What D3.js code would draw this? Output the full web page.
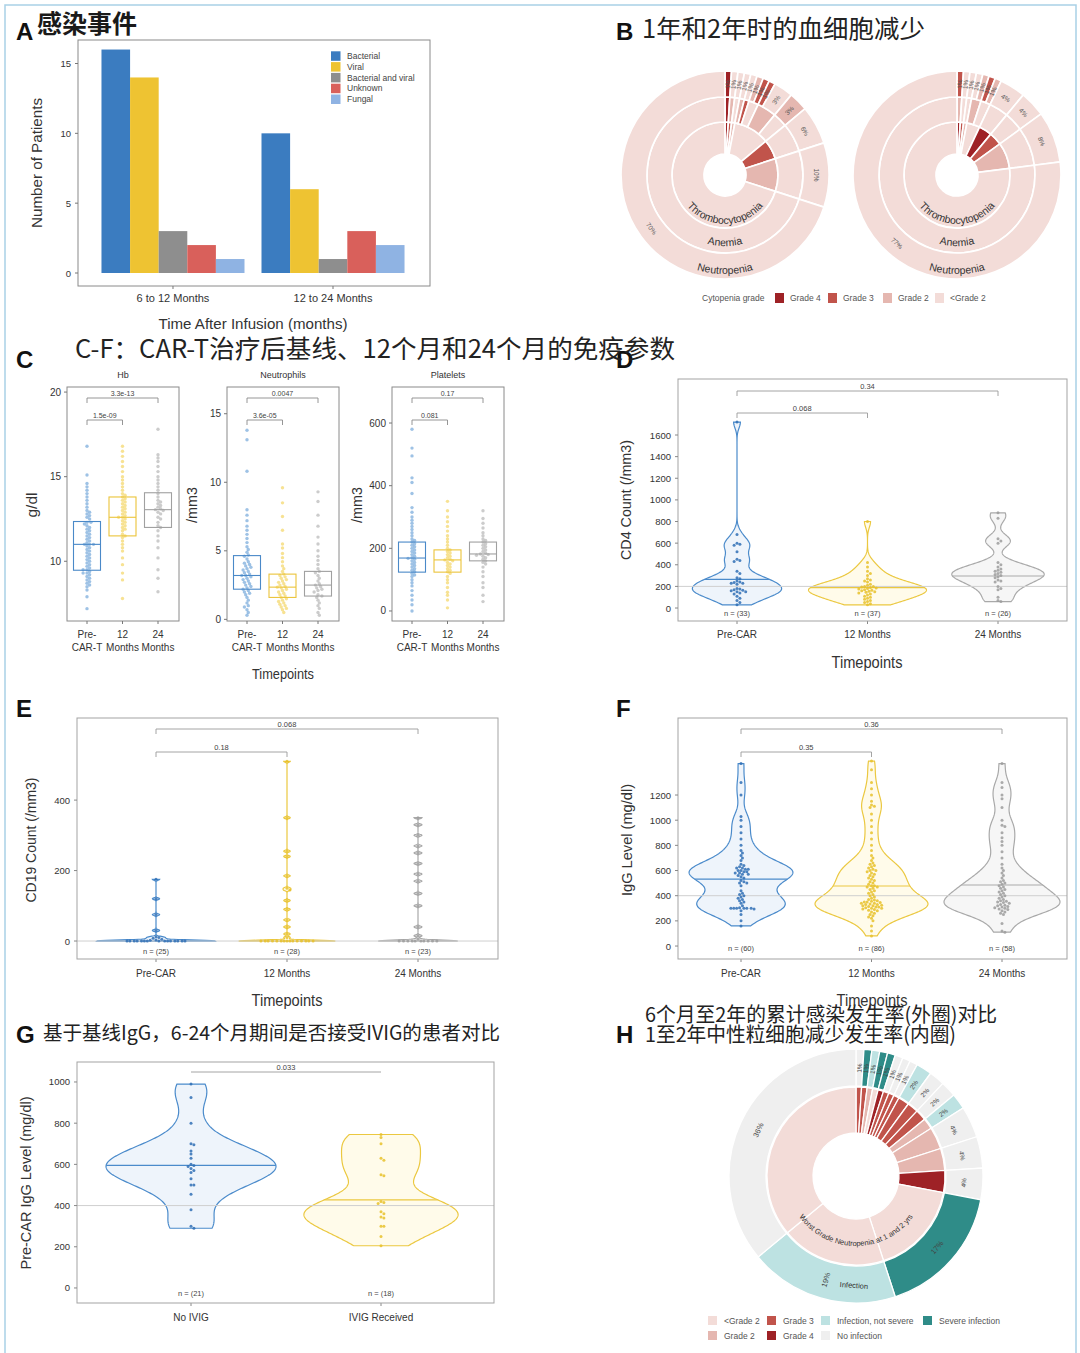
<!DOCTYPE html>
<html><head><meta charset="utf-8">
<script src="https://cdn.jsdelivr.net/npm/d3@7"></script>
<style>html,body{margin:0;padding:0;background:#fff}</style>
</head><body>
<svg id="fig" width="1080" height="1353" xmlns="http://www.w3.org/2000/svg"></svg>
<script>
// ================= DATA =================
// Panel A
const aCategories = ["6 to 12 Months", "12 to 24 Months"];
const aSeries = ["Bacterial", "Viral", "Bacterial and viral", "Unknown", "Fungal"];
const aValues6to12 = [16, 14, 3, 2, 1];
const aValues12to24 = [10, 6, 1, 3, 2];
const aTicks = [0, 5, 10, 15];

// Panel B  leaves: [thrombocytopenia grade, anemia grade, neutropenia grade, percent]  (1 = <Grade 2)
const bGradeNames = ["Grade 4", "Grade 3", "Grade 2", "<Grade 2"];
const bGradeKeys = [4, 3, 2, 1];
const bRingNames = ["Thrombocytopenia", "Anemia", "Neutropenia"];
const b1yr = [[4,4,4,1],[3,2,1,1],[2,1,1,1],[1,2,1,1],[1,3,1,1],[1,1,2,1],[1,1,3,1],[1,2,3,1],
              [1,2,1,3],[1,1,2,3],[3,1,1,6],[2,1,1,10],[1,1,1,70]];
const b2yr = [[4,2,3,1],[3,1,1,1],[2,1,1,1],[1,2,1,1],[1,2,2,1],[1,1,3,1],[1,1,2,1],
              [4,1,1,4],[3,1,1,4],[2,1,1,8],[1,1,1,77]];

// Panel C
const cPanelNames = ["Hb", "Neutrophils", "Platelets"];
const cGroups = ["Pre-CAR-T", "12 Months", "24 Months"];
const cGroupLines = [["Pre-", "CAR-T"], ["12", "Months"], ["24", "Months"]];
const cYLabels = ["g/dl", "/mm3", "/mm3"];
const cTicks = [[10, 15, 20], [0, 5, 10, 15], [0, 200, 400, 600]];
const hbPre = [7.2,7.9,8.3,8.5,8.6,8.7,8.8,8.9,9.0,9.1,9.2,9.3,9.3,9.4,9.5,9.5,9.6,9.7,9.8,9.9,10.0,10.1,10.2,10.3,10.4,10.5,10.6,10.7,10.8,10.9,11.0,11.0,11.0,11.1,11.2,11.3,11.4,11.5,11.6,11.7,11.8,11.9,12.0,12.1,12.2,12.3,12.3,12.5,12.6,12.7,12.8,12.9,13.0,13.2,13.4,13.6,13.8,14.0,14.2,14.4,14.6,15.1,16.8];
const hb12 = [7.8,8.9,9.3,9.8,10.2,10.6,10.8,11.0,11.2,11.4,11.5,11.6,11.8,11.9,12.0,12.1,12.2,12.3,12.4,12.5,12.6,12.6,12.7,12.8,12.9,13.0,13.1,13.2,13.3,13.4,13.5,13.6,13.7,13.8,13.9,14.0,14.2,14.4,14.6,14.8,15.0,15.3,15.6,15.9,16.2,16.5,16.8];
const hb24 = [8.2,9.0,9.5,10.2,10.8,11.2,11.5,11.8,12.0,12.1,12.3,12.5,12.6,12.8,12.9,13.0,13.05,13.1,13.2,13.3,13.4,13.5,13.6,13.8,14.0,14.2,14.4,14.6,14.8,15.0,15.3,15.6,15.9,16.1,16.3,17.8];
const hbBoxes = [[9.47, 11.0, 12.35], [11.5, 12.6, 13.8], [12.0, 13.05, 14.05]];
const hbP = ["1.5e-09", "3.3e-13"];
const nePre = [0.3,0.5,0.7,0.9,1.0,1.2,1.4,1.6,1.8,1.9,2.0,2.1,2.2,2.3,2.4,2.5,2.6,2.7,2.8,2.9,3.0,3.1,3.2,3.2,3.3,3.4,3.5,3.6,3.7,3.8,3.9,4.0,4.1,4.2,4.4,4.6,4.7,4.9,5.1,5.3,5.6,5.9,6.2,6.5,6.8,7.2,7.6,8.0,10.8,13.1,13.8];
const ne12 = [0.5,0.7,0.8,0.9,1.0,1.1,1.2,1.3,1.4,1.5,1.6,1.7,1.8,1.9,2.0,2.1,2.2,2.3,2.35,2.4,2.5,2.6,2.7,2.8,2.9,3.0,3.1,3.2,3.3,3.5,3.7,3.9,4.2,4.5,4.8,5.2,5.5,6.5,7.5,8.5,9.6];
const ne24 = [0.3,0.5,0.8,1.0,1.2,1.4,1.6,1.7,1.8,2.0,2.1,2.2,2.3,2.4,2.5,2.6,2.8,3.0,3.2,3.4,3.5,3.7,4.0,4.3,4.6,5.0,5.5,6.0,6.8,7.6,8.6,9.3];
const neBoxes = [[2.2, 3.2, 4.65], [1.6, 2.35, 3.3], [1.7, 2.5, 3.5]];
const neP = ["3.6e-05", "0.0047"];
const plPre = [0,20,35,50,65,80,90,100,110,115,120,125,130,135,140,145,150,155,160,165,168,170,175,180,185,190,195,200,205,210,215,220,225,230,240,250,260,270,280,290,300,315,330,375,410,425,495,520,580];
const pl12 = [10,35,50,60,75,90,100,110,120,125,130,135,140,145,150,155,160,163,165,170,175,180,185,190,195,200,210,220,230,240,255,270,285,300,320,350];
const pl24 = [30,50,75,90,110,125,140,150,155,160,165,170,175,178,180,182,185,190,195,200,205,210,215,220,225,230,240,250,265,280,295,320];
const plBoxes = [[124, 169, 220], [124, 163, 195], [160, 182, 220]];
const plP = ["0.081", "0.17"];

// Panels D-F
const vGroups = ["Pre-CAR", "12 Months", "24 Months"];
const cd4Pre = [30,50,70,90,110,130,140,150,150,160,165,170,175,180,220,230,230,235,240,250,270,280,320,340,430,440,450,520,580,590,600,680,1720];
const cd412 = [30,40,50,60,70,80,90,100,110,120,130,140,145,150,155,160,165,170,175,180,185,190,195,200,200,210,220,240,250,260,270,300,320,340,380,420,800];
const cd424 = [60,70,100,170,180,200,240,250,260,280,290,300,310,320,330,340,350,360,380,400,420,600,620,640,830,880];
const dLines = [265, 188, 296];
const dP = ["0.068", "0.34"];
const dN = [33, 37, 26];
const dTicks = [0, 200, 400, 600, 800, 1000, 1200, 1400, 1600];

const cd19Pre = [0,0,0,0,0,0,0,0,0,0,0,0,0,0,0,2,3,5,8,10,12,30,75,120,175];
const cd1912 = [0,0,0,0,0,0,0,0,0,0,0,0,0,0,0,10,20,40,60,90,115,145,150,185,240,255,350,510];
const cd1924 = [0,0,0,0,0,0,0,0,0,0,5,15,40,100,135,170,190,220,250,270,300,330,350];
const eP = ["0.18", "0.068"];
const eN = [25, 28, 23];
const eTicks = [0, 200, 400];

const iggPre = [160,200,250,280,295,300,300,300,300,300,300,305,320,340,350,360,370,380,390,400,410,420,440,480,500,500,510,520,540,550,560,570,570,580,580,590,590,600,600,610,610,620,620,630,640,650,680,700,720,740,760,800,850,900,950,1000,1030,1200,1300,1450];
const igg12 = [80,120,160,200,220,230,240,250,260,270,280,285,290,295,300,300,305,310,310,315,320,320,325,330,330,335,340,340,345,350,350,355,360,365,370,380,390,400,410,420,430,440,450,460,470,470,480,480,490,500,510,520,530,540,550,560,570,580,590,600,600,610,620,630,640,650,660,680,700,720,760,800,850,900,950,1000,1050,1100,1110,1120,1150,1200,1250,1300,1400,1470];
const igg24 = [110,120,180,250,260,270,280,290,295,300,305,310,315,320,325,330,340,345,350,355,360,370,380,390,400,410,420,430,440,450,460,470,480,490,500,510,520,540,560,580,600,620,650,700,750,800,830,860,900,950,960,1000,1100,1170,1200,1260,1300,1450];
const fLines = [532, 477, 485];
const fP = ["0.35", "0.36"];
const fN = [60, 86, 58];
const fTicks = [0, 200, 400, 600, 800, 1000, 1200];

// Panel G
const gGroups = ["No IVIG", "IVIG Received"];
const gNoIVIG = [990,925,800,700,695,665,650,630,600,595,590,580,570,560,530,500,500,455,380,300,290];
const gIVIG = [745,730,700,630,620,550,545,420,415,410,370,360,345,340,300,300,250,205];
const gLines = [595, 428];
const gP = ["0.033"];
const gN = [21, 18];
const gTicks = [0, 200, 400, 600, 800, 1000];

// Panel H  leaves: [worst neutropenia grade, infection (0 none,1 not severe,2 severe), percent]
const hLeaves = [[3,0,1],[3,2,1],[2,1,1],[1,2,1],[4,2,1],[3,0,1],[3,0,1],[3,0,1],
                 [3,1,2],[3,0,2],[3,0,2],[2,1,2],
                 [2,0,4],[2,0,4],[4,0,4],
                 [1,2,17],[1,1,19],[1,0,36]];
const hInfNames = ["Infection, not severe", "Severe infection", "No infection"];

// ================= STYLE =================
const SANS = '"Liberation Sans", Arial, Helvetica, sans-serif';
const CJK = '"Noto Sans CJK SC", "Noto Sans CJK JP", sans-serif';
const aColors = ["#3b7cc0", "#eec332", "#8e8e8e", "#d9605b", "#8fb3e3"];
const gradeColor = {4: "#9e2226", 3: "#c1544b", 2: "#e5b7b0", 1: "#f3dcd8"};
const infColor = {0: "#efefef", 1: "#bde2e2", 2: "#2f8c88"};
const cStroke = ["#4a89c8", "#ebc43a", "#a0a0a0"];
const cPoint = ["#4f8fd0", "#f0ca3a", "#a3a3a3"];
const vStroke = ["#4b8bcb", "#ebc840", "#a9a9a9"];
const vFill = ["#eef4fb", "#fffbea", "#f6f6f6"];
const vPoint = ["#2f6fb5", "#e8c12a", "#9c9c9c"];

const svg = d3.select("#fig");

function T(x, y, s, o = {}) {
  const t = svg.append("text").attr("x", x).attr("y", y).text(s)
    .attr("font-family", o.family || SANS).attr("font-size", o.size || 10)
    .attr("fill", o.fill || "#333").attr("text-anchor", o.anchor || "start");
  if (o.weight) t.attr("font-weight", o.weight);
  if (o.rot !== undefined) t.attr("transform", `rotate(${o.rot},${x},${y})`);
  if (o.len) t.attr("textLength", o.len).attr("lengthAdjust", "spacingAndGlyphs");
  return t;
}
function Ln(x1, y1, x2, y2, stroke, w = 1) {
  return svg.append("line").attr("x1", x1).attr("y1", y1).attr("x2", x2).attr("y2", y2)
    .attr("stroke", stroke).attr("stroke-width", w);
}
function frame(x0, y0, x1, y1, stroke = "#9a9a9a") {
  svg.append("rect").attr("x", x0).attr("y", y0).attr("width", x1 - x0).attr("height", y1 - y0)
    .attr("fill", "none").attr("stroke", stroke).attr("stroke-width", 1);
}
function kde(vals, bw, lo, hi) {
  const n = Math.max(200, Math.ceil((hi - lo) / bw * 4));
  const out = [];
  for (let i = 0; i <= n; i++) { const v = lo + (hi - lo) * i / n; out.push([v, kdeAt(vals, bw, v)]); }
  return out;
}
function kdeAt(vals, bw, v) {
  let s = 0;
  for (const x of vals) { const z = (v - x) / bw; s += Math.exp(-0.5 * z * z); }
  return s / (vals.length * bw * Math.sqrt(2 * Math.PI));
}
function dodge(vals, yScale, md, step) {
  const pts = vals.map(v => ({ v, y: yScale(v), x: 0 })).sort((a, b) => a.y - b.y);
  const placed = [];
  for (const p of pts) {
    for (let k = 0; k < 400; k++) {
      const off = (k % 2 ? 1 : -1) * Math.ceil(k / 2) * step;
      let ok = true;
      for (let j = placed.length - 1; j >= 0; j--) {
        const q = placed[j];
        if (p.y - q.y >= md) break;
        if (Math.hypot(q.x - off, q.y - p.y) < md) { ok = false; break; }
      }
      if (ok) { p.x = off; break; }
    }
    placed.push(p);
  }
  return pts;
}
function labelRot(deg, radial) {
  let r = radial ? deg - 90 : deg;
  r = ((r % 360) + 360) % 360;
  if (r > 90 && r <= 270) r -= 180; else if (r > 270) r -= 360;
  return r;
}

// ================= FRAME & LABELS =================
svg.append("rect").attr("x", 5).attr("y", 5).attr("width", 1071).attr("height", 1370)
  .attr("fill", "none").attr("stroke", "#a9d1e6").attr("stroke-width", 1.5);

[["A", 16, 40], ["B", 616, 40], ["C", 16, 368], ["D", 616, 368], ["E", 16, 717], ["F", 616, 717], ["G", 16, 1043], ["H", 616, 1043]]
  .forEach(([l, x, y]) => T(x, y, l, { size: 24, weight: "bold", fill: "#111" }));

T(37, 33, "感染事件", { family: CJK, size: 25, weight: "bold", fill: "#1a1a1a", len: 100 });
T(642, 38, "1年和2年时的血细胞减少", { family: CJK, size: 25, fill: "#222", len: 283 });
T(75, 358, "C-F：CAR-T治疗后基线、12个月和24个月的免疫参数", { family: CJK, size: 25, fill: "#222", len: 600 });
T(43, 1040, "基于基线IgG，6-24个月期间是否接受IVIG的患者对比", { family: CJK, size: 19.5, fill: "#222", len: 457 });
T(645, 1022, "6个月至2年的累计感染发生率(外圈)对比", { family: CJK, size: 20, fill: "#222", len: 352 });
T(645, 1042, "1至2年中性粒细胞减少发生率(内圈)", { family: CJK, size: 20, fill: "#222", len: 311 });

// ================= PANEL A =================
(function () {
  const x0 = d3.scaleBand().domain(aCategories).range([93, 413]).paddingInner(0.10625).paddingOuter(0.053);
  const x1 = d3.scaleBand().domain(aSeries).range([0, x0.bandwidth()]);
  const y = d3.scaleLinear().domain([0, 15]).range([273, 63.5]);
  const vals = [aValues6to12, aValues12to24];
  frame(78, 40, 430, 286, "#8a8a8a");
  aCategories.forEach((c, i) => aSeries.forEach((s, j) => {
    svg.append("rect").attr("x", x0(c) + x1(s)).attr("y", y(vals[i][j]))
      .attr("width", x1.bandwidth()).attr("height", y(0) - y(vals[i][j])).attr("fill", aColors[j]);
  }));
  aTicks.forEach(t => { Ln(75, y(t), 78, y(t), "#777"); T(71, y(t) + 3.5, t, { size: 9.5, anchor: "end" }); });
  aCategories.forEach(c => {
    const cx = x0(c) + x0.bandwidth() / 2;
    Ln(cx, 286, cx, 289, "#777");
    T(cx, 302, c, { size: 11, anchor: "middle" });
  });
  T(42, 163, "Number of Patients", { size: 14, anchor: "middle", rot: -90, len: 130 });
  T(253, 329, "Time After Infusion (months)", { size: 15, anchor: "middle", len: 189 });
  aSeries.forEach((s, j) => {
    const cy = 56 + j * 10.8;
    svg.append("rect").attr("x", 331).attr("y", cy - 4.7).attr("width", 9.5).attr("height", 9.5).attr("fill", aColors[j]);
    T(347, cy + 3, s, { size: 8.5, fill: "#444" });
  });
})();

// ================= PANEL B =================
function sunburst(cx, cy, leaves, idp) {
  const radii = [[21, 53], [53, 78], [78, 104]];
  const slices = d3.pie().sort(null).value(d => d[3])(leaves);
  const g = svg.append("g").attr("transform", `translate(${cx},${cy})`);
  for (let k = 0; k < 3; k++) {
    const arc = d3.arc().innerRadius(radii[k][0]).outerRadius(radii[k][1]);
    let i = 0;
    while (i < leaves.length) {
      let j = i;
      const same = (a, b) => { for (let m = 0; m <= k; m++) if (a[m] !== b[m]) return false; return true; };
      while (j + 1 < leaves.length && same(leaves[i], leaves[j + 1])) j++;
      g.append("path").attr("d", arc({ startAngle: slices[i].startAngle, endAngle: slices[j].endAngle }))
        .attr("fill", gradeColor[leaves[i][k]]).attr("stroke", "#fff").attr("stroke-width", 1.7);
      i = j + 1;
    }
  }
  slices.forEach(s => {
    const a = (s.startAngle + s.endAngle) / 2, r = 91;
    const pct = s.data[3];
    g.append("text").attr("transform", `translate(${r * Math.sin(a)},${-r * Math.cos(a)}) rotate(${labelRot(a * 180 / Math.PI, pct <= 3)})`)
      .attr("text-anchor", "middle").attr("dy", "0.35em").attr("font-size", 6.5).attr("font-family", SANS)
      .attr("fill", "#555").text(pct + "%");
  });
  [49, 71, 99].forEach((r, k) => {
    g.append("path").attr("id", idp + k).attr("d", `M${-r},0 A${r},${r} 0 0 0 ${r},0`).attr("fill", "none");
    g.append("text").attr("font-size", 10.5).attr("font-family", SANS).attr("fill", "#333")
      .append("textPath").attr("href", "#" + idp + k).attr("startOffset", "50%").attr("text-anchor", "middle")
      .text(bRingNames[k]);
  });
}
sunburst(725, 175, b1yr, "b1r");
sunburst(957, 175, b2yr, "b2r");
(function () {
  T(702, 301, "Cytopenia grade", { size: 8.5, fill: "#555" });
  const sx = [775, 828, 883, 935];
  bGradeNames.forEach((n, i) => {
    svg.append("rect").attr("x", sx[i]).attr("y", 293).attr("width", 9).attr("height", 10).attr("fill", gradeColor[bGradeKeys[i]]);
    T(sx[i] + 15, 301, n, { size: 8.5, fill: "#555" });
  });
})();

// ================= PANEL C =================
(function () {
  const data = [[hbPre, hb12, hb24], [nePre, ne12, ne24], [plPre, pl12, pl24]];
  const boxes = [hbBoxes, neBoxes, plBoxes];
  const pv = [hbP, neP, plP];
  const lefts = [67, 227, 392];
  const domains = [[6.47, 20.3], [-0.12, 16.95], [-32, 715]];
  const top = 387, bottom = 621, width = 112;
  cPanelNames.forEach((name, p) => {
    const L0 = lefts[p], R0 = L0 + width;
    const y = d3.scaleLinear().domain(domains[p]).range([bottom, top]);
    const x = d3.scalePoint().domain(cGroups).range([L0 + 20, L0 + 91]);
    frame(L0, top, R0, bottom, "#8a8a8a");
    cTicks[p].forEach(t => { Ln(L0 - 3, y(t), L0, y(t), "#777"); T(L0 - 6, y(t) + 3.5, t, { size: 10, anchor: "end" }); });
    T((L0 + R0) / 2, 378, name, { size: 9, anchor: "middle" });
    T(L0 - 30, 505, cYLabels[p], { size: 14, anchor: "middle", rot: -90, len: p === 0 ? 25 : 36 });
    cGroups.forEach((gname, i) => {
      const cx = x(gname);
      dodge(data[p][i], y, 3.0, 1.3).forEach(pt => {
        svg.append("circle").attr("cx", cx + pt.x).attr("cy", pt.y).attr("r", 1.7)
          .attr("fill", cPoint[i]).attr("fill-opacity", 0.55);
      });
      const [q1, med, q3] = boxes[p][i];
      svg.append("rect").attr("x", cx - 13.5).attr("y", y(q3)).attr("width", 27).attr("height", y(q1) - y(q3))
        .attr("fill", "none").attr("stroke", cStroke[i]).attr("stroke-width", 1.1);
      Ln(cx - 13.5, y(med), cx + 13.5, y(med), cStroke[i], 1.1);
      Ln(cx, bottom, cx, bottom + 3, "#777");
      T(cx, 638, cGroupLines[i][0], { size: 10, anchor: "middle" });
      T(cx, 651, cGroupLines[i][1], { size: 10, anchor: "middle" });
    });
    [[0, 1, 420, pv[p][0]], [0, 2, 398, pv[p][1]]].forEach(([a, b, by, lab]) => {
      svg.append("path").attr("d", `M${x(cGroups[a])},${by + 5}V${by}H${x(cGroups[b])}V${by + 5}`)
        .attr("fill", "none").attr("stroke", "#8a8a8a").attr("stroke-width", 0.9);
      T((x(cGroups[a]) + x(cGroups[b])) / 2, by - 2.5, lab, { size: 7, anchor: "middle", fill: "#444" });
    });
  });
  T(283, 679, "Timepoints", { size: 15, anchor: "middle", len: 62 });
})();

// ================= VIOLIN PANELS =================
function violinPanel(o) {
  const y = d3.scaleLinear().domain(o.domain).range([o.bottom, o.top]);
  const x = d3.scalePoint().domain(o.groups).range(o.xr);
  const dens = o.data.map(v => kde(v, o.bw, d3.min(v), d3.max(v)));
  const maxD = d3.max(dens, d => d3.max(d, q => q[1]));
  const w = d3.scaleLinear().domain([0, maxD]).range([0, o.maxHalf]);
  o.groups.forEach((gname, i) => {
    const cx = x(gname);
    const area = d3.area().y(q => y(q[0])).x0(q => cx - w(q[1])).x1(q => cx + w(q[1]));
    svg.append("path").attr("d", area(dens[i])).attr("fill", o.fills[i]).attr("stroke", o.strokes[i]).attr("stroke-width", 1.2);
  });
  Ln(o.left, y(o.ref), o.right, y(o.ref), "#cfcfcf", 1);
  o.groups.forEach((gname, i) => {
    const cx = x(gname);
    if (o.lines) {
      const hw = w(kdeAt(o.data[i], o.bw, o.lines[i]));
      Ln(cx - hw, y(o.lines[i]), cx + hw, y(o.lines[i]), o.strokes[i], 1.2);
    }
    dodge(o.data[i], y, 2.9, 1.45).forEach(pt => {
      svg.append("circle").attr("cx", cx + pt.x).attr("cy", pt.y).attr("r", 1.5)
        .attr("fill", o.points[i]).attr("fill-opacity", 0.85);
    });
    Ln(cx, o.bottom, cx, o.bottom + 3, "#888");
    T(cx, o.xLabelY, gname, { size: 10, anchor: "middle" });
    T(cx, o.nY, "n = (" + o.n[i] + ")", { size: 7.5, anchor: "middle", fill: "#444" });
  });
  frame(o.left, o.top, o.right, o.bottom, "#a3a3a3");
  o.ticks.forEach(t => { Ln(o.left - 3, y(t), o.left, y(t), "#888"); T(o.left - 7, y(t) + 3.5, t, { size: 9.5, anchor: "end" }); });
  o.brackets.forEach(([a, b, by, lab]) => {
    const xa = x(o.groups[a]), xb = x(o.groups[b]);
    const d = o.bracketTicks ? `M${xa},${by + 5}V${by}H${xb}V${by + 5}` : `M${xa},${by}H${xb}`;
    svg.append("path").attr("d", d).attr("fill", "none").attr("stroke", "#9a9a9a").attr("stroke-width", 0.9);
    T((xa + xb) / 2, by - 2.5, lab, { size: 7.5, anchor: "middle", fill: "#444" });
  });
  if (o.xTitle) T(o.xTitleX, o.xTitleY, o.xTitle, { size: 16, anchor: "middle", len: 71 });
  T(o.yTitleX, o.yTitleY, o.yTitle, { size: 14, anchor: "middle", rot: -90, len: o.yTitleLen });
}

violinPanel({
  left: 678, right: 1067, top: 379, bottom: 621, domain: [-120, 2118], xr: [737, 998],
  groups: vGroups, data: [cd4Pre, cd412, cd424], lines: dLines, bw: 55, maxHalf: 59, ref: 200,
  fills: vFill, strokes: vStroke, points: vPoint, n: dN, nY: 616, xLabelY: 638, ticks: dTicks,
  brackets: [[0, 1, 413, dP[0]], [0, 2, 391, dP[1]]], bracketTicks: true,
  xTitle: "Timepoints", xTitleX: 867, xTitleY: 668,
  yTitle: "CD4 Count (/mm3)", yTitleX: 631, yTitleY: 500, yTitleLen: 120
});
violinPanel({
  left: 77, right: 498, top: 718, bottom: 959, domain: [-51, 633], xr: [156, 418],
  groups: vGroups, data: [cd19Pre, cd1912, cd1924], lines: null, bw: 2.5, maxHalf: 59, ref: 0,
  fills: vFill, strokes: vStroke, points: vPoint, n: eN, nY: 954, xLabelY: 977, ticks: eTicks,
  brackets: [[0, 1, 752, eP[0]], [0, 2, 729, eP[1]]], bracketTicks: true,
  xTitle: "Timepoints", xTitleX: 287, xTitleY: 1006,
  yTitle: "CD19 Count (/mm3)", yTitleX: 36, yTitleY: 840, yTitleLen: 125
});
violinPanel({
  left: 678, right: 1067, top: 718, bottom: 959, domain: [-103, 1812], xr: [741, 1002],
  groups: vGroups, data: [iggPre, igg12, igg24], lines: fLines, bw: 70, maxHalf: 58, ref: 400,
  fills: vFill, strokes: vStroke, points: vPoint, n: fN, nY: 951, xLabelY: 977, ticks: fTicks,
  brackets: [[0, 1, 752, fP[0]], [0, 2, 729, fP[1]]], bracketTicks: true,
  xTitle: "Timepoints", xTitleX: 872, xTitleY: 1006,
  yTitle: "IgG Level (mg/dl)", yTitleX: 632, yTitleY: 840, yTitleLen: 112
});
violinPanel({
  left: 77, right: 494, top: 1062, bottom: 1303, domain: [-73, 1097], xr: [191, 381],
  groups: gGroups, data: [gNoIVIG, gIVIG], lines: gLines, bw: 62, maxHalf: 85, ref: 400,
  fills: vFill, strokes: vStroke, points: vPoint, n: gN, nY: 1296, xLabelY: 1321, ticks: gTicks,
  brackets: [[0, 1, 1072, gP[0]]], bracketTicks: false,
  xTitle: null,
  yTitle: "Pre-CAR IgG Level (mg/dl)", yTitleX: 31, yTitleY: 1183, yTitleLen: 173
});

// ================= PANEL H =================
(function () {
  const cx = 856, cy = 1176;
  const g = svg.append("g").attr("transform", `translate(${cx},${cy})`);
  const slices = d3.pie().sort(null).value(d => d[2])(hLeaves);
  const arcIn = d3.arc().innerRadius(43).outerRadius(89);
  const arcOut = d3.arc().innerRadius(90).outerRadius(127);
  slices.forEach(s => {
    g.append("path").attr("d", arcIn(s)).attr("fill", gradeColor[s.data[0]]).attr("stroke", "#fff").attr("stroke-width", 1.3);
    g.append("path").attr("d", arcOut(s)).attr("fill", infColor[s.data[1]]).attr("stroke", "#fff").attr("stroke-width", 1.3);
  });
  slices.forEach(s => {
    const a = (s.startAngle + s.endAngle) / 2, r = 108, pct = s.data[2];
    g.append("text").attr("transform", `translate(${r * Math.sin(a)},${-r * Math.cos(a)}) rotate(${labelRot(a * 180 / Math.PI, pct <= 2 || pct === 19)})`)
      .attr("text-anchor", "middle").attr("dy", "0.35em").attr("font-size", pct > 10 ? 7.5 : 6.5).attr("font-family", SANS)
      .attr("fill", "#444").text(pct + "%");
  });
  const inf = slices[16], ai = inf.startAngle + (inf.endAngle - inf.startAngle) * 0.28;
  g.append("text").attr("transform", `translate(${112 * Math.sin(ai)},${-112 * Math.cos(ai)}) rotate(4)`)
    .attr("text-anchor", "middle").attr("font-size", 7.5).attr("font-family", SANS).attr("fill", "#333").text("Infection");
  g.append("path").attr("id", "hInner").attr("d", "M-70,0 A70,70 0 0 0 70,0").attr("fill", "none");
  g.append("text").attr("font-size", 7.5).attr("font-family", SANS).attr("fill", "#333")
    .append("textPath").attr("href", "#hInner").attr("startOffset", "50%").attr("text-anchor", "middle")
    .text("Worst Grade Neutropenia at 1 and 2 yrs");
  const leg = [
    [708, 1321, gradeColor[1], "<Grade 2"], [767, 1321, gradeColor[3], "Grade 3"],
    [821, 1321, infColor[1], hInfNames[0]], [923, 1321, infColor[2], hInfNames[1]],
    [708, 1336, gradeColor[2], "Grade 2"], [767, 1336, gradeColor[4], "Grade 4"],
    [821, 1336, infColor[0], hInfNames[2]]
  ];
  leg.forEach(([x, y, c, t]) => {
    svg.append("rect").attr("x", x).attr("y", y - 5).attr("width", 9).attr("height", 9).attr("fill", c);
    T(x + 16, y + 3, t, { size: 8.5, fill: "#555" });
  });
})();
</script>
</body></html>
